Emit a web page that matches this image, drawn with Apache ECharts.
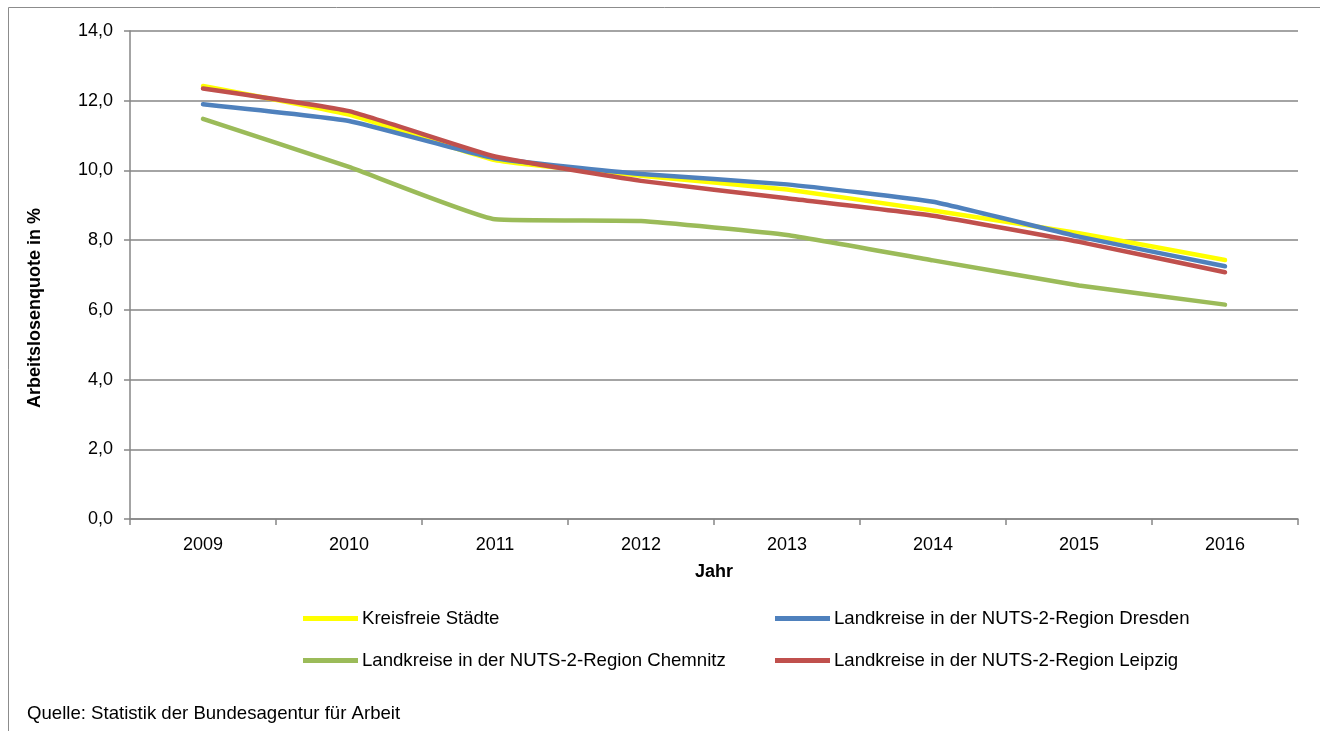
<!DOCTYPE html>
<html>
<head>
<meta charset="utf-8">
<script src="https://cdn.jsdelivr.net/npm/echarts@6/dist/echarts.min.js"></script>
<style>
  html, body { margin: 0; padding: 0; background: #fff; }
  #chart { width: 1320px; height: 731px; }
</style>
</head>
<body>
<div id="chart"></div>
<script>
// Arbeitslosenquote 2009–2016 nach Kreistyp
const years = ['2009', '2010', '2011', '2012', '2013', '2014', '2015', '2016'];
const kreisfreieStaedte = [12.42, 11.6, 10.3, 9.85, 9.45, 8.85, 8.2, 7.43];
const landkreiseDresden = [11.9, 11.42, 10.35, 9.9, 9.6, 9.1, 8.1, 7.25];
const landkreiseChemnitz = [11.48, 10.1, 8.6, 8.55, 8.15, 7.42, 6.7, 6.15];
const landkreiseLeipzig = [12.35, 11.7, 10.4, 9.7, 9.2, 8.7, 7.95, 7.08];
const yTicks = { min: 0, max: 14, step: 2 };

const FONT = 'Liberation Sans, Arial, sans-serif';
const FS = 18;
const FS_TEXT = 18.6;
const AXIS_GREY = '#868686';

const seriesDefs = [
  { name: 'Kreisfreie Städte', data: kreisfreieStaedte, color: '#FFFF00' },
  { name: 'Landkreise in der NUTS-2-Region Dresden', data: landkreiseDresden, color: '#4F81BD' },
  { name: 'Landkreise in der NUTS-2-Region Chemnitz', data: landkreiseChemnitz, color: '#9BBB59' },
  { name: 'Landkreise in der NUTS-2-Region Leipzig', data: landkreiseLeipzig, color: '#C0504D' }
];

const legendBase = {
  orient: 'vertical',
  top: 609,
  padding: 0,
  icon: 'rect',
  itemWidth: 55,
  itemHeight: 5,
  itemGap: 23,
  textStyle: { fontFamily: FONT, fontSize: FS_TEXT, color: '#000', padding: [0, 0, 0, -1] }
};

const chart = echarts.init(document.getElementById('chart'), null, { renderer: 'canvas' });
chart.setOption({
  animation: false,
  backgroundColor: '#fff',
  textStyle: { fontFamily: FONT },
  graphic: [
    {
      type: 'rect',
      shape: { x: 8.5, y: 7.5, width: 1330, height: 760 },
      style: { fill: null, stroke: '#8c8c8c', lineWidth: 1 },
      silent: true
    },
    {
      type: 'text',
      x: 35,
      y: 308,
      rotation: Math.PI / 2,
      style: {
        text: 'Arbeitslosenquote in %',
        font: 'bold 18px ' + FONT,
        fill: '#000',
        align: 'center',
        verticalAlign: 'middle'
      }
    },
    {
      type: 'text',
      left: 27,
      top: 704,
      style: { text: 'Quelle: Statistik der Bundesagentur für Arbeit', font: FS_TEXT + 'px ' + FONT, fill: '#000' }
    }
  ],
  grid: { left: 130, right: 22, top: 31, bottom: 212, containLabel: false },
  legend: [
    Object.assign({}, legendBase, { left: 303, data: [seriesDefs[0].name, seriesDefs[2].name] }),
    Object.assign({}, legendBase, { left: 775, data: [seriesDefs[1].name, seriesDefs[3].name] })
  ],
  xAxis: {
    type: 'category',
    data: years,
    boundaryGap: true,
    name: 'Jahr',
    nameLocation: 'middle',
    nameGap: 44,
    nameTextStyle: { fontFamily: FONT, fontSize: FS, fontWeight: 'bold', color: '#000' },
    axisLine: { lineStyle: { color: AXIS_GREY, width: 1.5 } },
    axisTick: { show: true, interval: 0, length: 6, lineStyle: { color: AXIS_GREY, width: 1.5 } },
    axisLabel: { fontFamily: FONT, fontSize: FS, color: '#000', margin: 17 },
    splitLine: { show: false }
  },
  yAxis: {
    type: 'value',
    min: yTicks.min,
    max: yTicks.max,
    interval: yTicks.step,
    axisLine: { show: true, lineStyle: { color: AXIS_GREY, width: 1.5 } },
    axisTick: { show: true, inside: false, length: 6, lineStyle: { color: AXIS_GREY, width: 1.5 } },
    axisLabel: {
      fontFamily: FONT, fontSize: FS, color: '#000', margin: 17,
      formatter: v => v.toFixed(1).replace('.', ',')
    },
    splitLine: { show: true, lineStyle: { color: AXIS_GREY, width: 1.5 } }
  },
  series: seriesDefs.map(s => ({
    name: s.name,
    type: 'line',
    data: s.data,
    color: s.color,
    showSymbol: false,
    symbol: 'none',
    smooth: 0.12,
    lineStyle: { width: 4.5, color: s.color, cap: 'round', join: 'round' },
    emphasis: { disabled: true }
  }))
});
</script>
</body>
</html>
